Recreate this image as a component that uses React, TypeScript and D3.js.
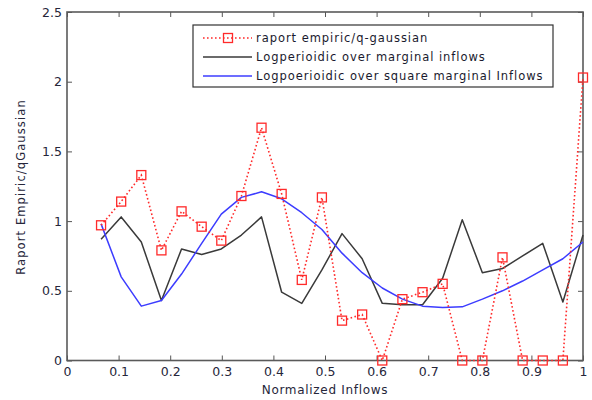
import React, { useEffect, useRef } from "react";
import * as d3 from "d3";

// x positions of the samples (normalized inflows)
const xs = [
  0.066, 0.105, 0.144, 0.183, 0.222, 0.261, 0.299, 0.338, 0.377, 0.416, 0.455,
  0.494, 0.533, 0.572, 0.611, 0.65, 0.689, 0.728, 0.766, 0.805, 0.844, 0.883,
  0.922, 0.961, 1.0,
];

// raport empiric/q-gaussian
const raport = [
  0.97, 1.14, 1.33, 0.79, 1.07, 0.96, 0.86, 1.18, 1.67, 1.195, 0.578, 1.17,
  0.286, 0.33, 0.0, 0.44, 0.49, 0.55, 0.0, 0.0, 0.74, 0.0, 0.0, 0.0, 2.03,
];

// Logperioidic over marginal inflows
const logMarginal = [
  0.87, 1.03, 0.85, 0.43, 0.8, 0.76, 0.8, 0.9, 1.03, 0.49, 0.41, 0.65, 0.91,
  0.73, 0.41, 0.4, 0.4, 0.59, 1.01, 0.63, 0.66, 0.75, 0.84, 0.42, 0.9,
];

// Logpoerioidic over square marginal Inflows
const logSquare = [
  0.98, 0.6, 0.39, 0.43, 0.62, 0.84, 1.05, 1.17, 1.21, 1.16, 1.06, 0.94, 0.77,
  0.63, 0.52, 0.44, 0.39, 0.38, 0.385, 0.44, 0.5, 0.57, 0.65, 0.73, 0.85,
];

const xTicks = [0, 0.1, 0.2, 0.3, 0.4, 0.5, 0.6, 0.7, 0.8, 0.9, 1];
const yTicks = [0, 0.5, 1, 1.5, 2, 2.5];

const legendLabels = [
  "raport empiric/q-gaussian",
  "Logperioidic over marginal inflows",
  "Logpoerioidic over square marginal Inflows",
];

const RED = "#ff2a2a";
const BLACK = "#3a3a3a";
const BLUE = "#3c3cff";
const FONT = "'DejaVu Sans', Verdana, sans-serif";

export default function App() {
  const ref = useRef<HTMLDivElement>(null);

  useEffect(() => {
    const width = 592;
    const height = 400;
    const margin = { top: 12, right: 8, bottom: 39.5, left: 67 };

    d3.select(ref.current).selectAll("*").remove();
    const svg = d3
      .select(ref.current)
      .append("svg")
      .attr("width", width)
      .attr("height", height)
      .style("font-family", FONT);

    svg.append("rect").attr("width", width).attr("height", height).attr("fill", "#fff");

    const x = d3.scaleLinear().domain([0, 1]).range([margin.left, width - margin.right - 1]);
    const y = d3.scaleLinear().domain([0, 2.5]).range([height - margin.bottom, margin.top]);

    const styleAxis = (g) => {
      g.select(".domain").remove();
      g.selectAll(".tick line").attr("stroke", "#555").attr("stroke-width", 1);
      g.selectAll(".tick text")
        .attr("fill", "#26263a")
        .style("font-size", "12.5px")
        .style("font-family", FONT);
    };

    svg
      .append("g")
      .attr("transform", `translate(0,${y(0)})`)
      .call(d3.axisBottom(x).tickValues(xTicks).tickSize(-5).tickPadding(7).tickFormat((d) => `${d}`))
      .call(styleAxis);
    svg
      .append("g")
      .attr("transform", `translate(0,${y(2.5)})`)
      .call(d3.axisTop(x).tickValues(xTicks).tickSize(-5).tickFormat(() => ""))
      .call(styleAxis);
    svg
      .append("g")
      .attr("transform", `translate(${x(0)},0)`)
      .call(d3.axisLeft(y).tickValues(yTicks).tickSize(-5).tickPadding(5).tickFormat((d) => `${d}`))
      .call(styleAxis);
    svg
      .append("g")
      .attr("transform", `translate(${x(1)},0)`)
      .call(d3.axisRight(y).tickValues(yTicks).tickSize(-5).tickFormat(() => ""))
      .call(styleAxis);

    // frame
    svg
      .append("rect")
      .attr("x", x(0))
      .attr("y", y(2.5))
      .attr("width", x(1) - x(0))
      .attr("height", y(0) - y(2.5))
      .attr("fill", "none")
      .attr("stroke", "#5a5a5a")
      .attr("stroke-width", 1.6);

    const line = (vals) =>
      d3
        .line<number>()
        .x((_, i) => x(xs[i]))
        .y((d) => y(d))(vals);

    svg
      .append("path")
      .attr("d", line(logMarginal))
      .attr("fill", "none")
      .attr("stroke", BLACK)
      .attr("stroke-width", 1.5)
      .attr("stroke-linejoin", "round");

    svg
      .append("path")
      .attr("d", line(logSquare))
      .attr("fill", "none")
      .attr("stroke", BLUE)
      .attr("stroke-width", 1.5)
      .attr("stroke-linejoin", "round");

    svg
      .append("path")
      .attr("d", line(raport))
      .attr("fill", "none")
      .attr("stroke", RED)
      .attr("stroke-width", 1.6)
      .attr("stroke-dasharray", "1.6,2.4");

    svg
      .selectAll("rect.marker")
      .data(raport)
      .enter()
      .append("rect")
      .attr("class", "marker")
      .attr("x", (d, i) => x(xs[i]) - 4.5)
      .attr("y", (d) => y(d) - 4.5)
      .attr("width", 9)
      .attr("height", 9)
      .attr("fill", "none")
      .attr("stroke", RED)
      .attr("stroke-width", 1.3);

    // legend
    const lg = svg.append("g").attr("transform", "translate(193,25)");
    lg.append("rect")
      .attr("width", 360)
      .attr("height", 62)
      .attr("fill", "#fff")
      .attr("stroke", "#333")
      .attr("stroke-width", 1.2);

    const rows = [
      { color: RED, dash: "1.6,2.4" },
      { color: BLACK, dash: null },
      { color: BLUE, dash: null },
    ];
    rows.forEach((r, i) => {
      const yy = 13 + i * 19;
      lg.append("line")
        .attr("x1", 10)
        .attr("x2", 59)
        .attr("y1", yy)
        .attr("y2", yy)
        .attr("stroke", r.color)
        .attr("stroke-width", 1.5)
        .attr("stroke-dasharray", r.dash);
      if (i === 0) {
        lg.append("rect")
          .attr("x", 30.5)
          .attr("y", yy - 4.5)
          .attr("width", 9)
          .attr("height", 9)
          .attr("fill", "none")
          .attr("stroke", RED)
          .attr("stroke-width", 1.3);
      }
      lg.append("text")
        .attr("x", 63)
        .attr("y", yy)
        .attr("dy", "0.35em")
        .attr("fill", "#1a1a2e")
        .style("font-size", "11.5px")
        .style("letter-spacing", "0.95px")
        .text(legendLabels[i]);
    });

    svg
      .append("text")
      .attr("x", (x(0) + x(1)) / 2)
      .attr("y", 394)
      .attr("text-anchor", "middle")
      .attr("fill", "#26263a")
      .style("font-size", "12px")
      .style("letter-spacing", "0.7px")
      .text("Normalized Inflows");

    svg
      .append("text")
      .attr("transform", "translate(25,187) rotate(-90)")
      .attr("text-anchor", "middle")
      .attr("fill", "#26263a")
      .style("font-size", "11.5px")
      .style("letter-spacing", "1.1px")
      .text("Raport Empiric/qGaussian");
  }, []);

  return <div ref={ref} style={{ position: "absolute", left: 0, top: 0 }}></div>;
}
